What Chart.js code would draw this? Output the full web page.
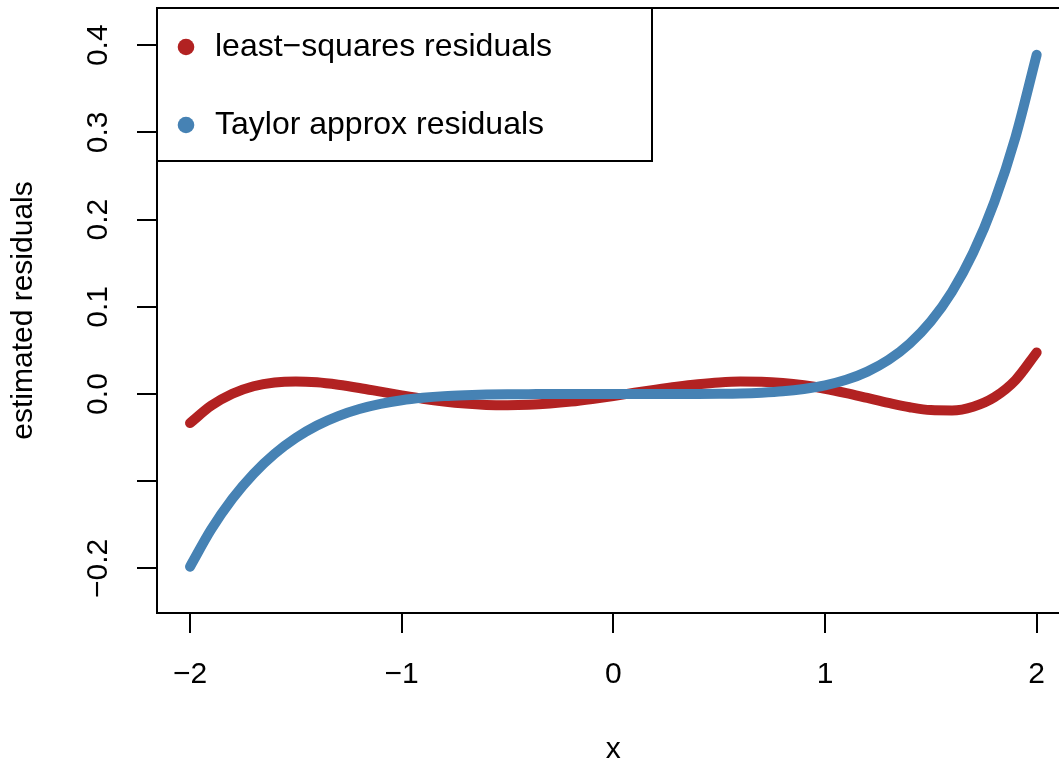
<!DOCTYPE html>
<html>
<head>
<meta charset="utf-8">
<script src="https://cdn.jsdelivr.net/npm/chart.js@4/dist/chart.umd.min.js"></script>
<style>
  html, body { margin: 0; padding: 0; background: #fff; overflow: hidden; width: 1059px; height: 763px; }
  #wrap { width: 1080px; height: 763px; }
  canvas { display: block; }
</style>
</head>
<body>
<div id="wrap"><canvas id="c" width="1080" height="763"></canvas></div>
<script>
// x grid on [-2, 2]
const xValues = [
  -2.0, -1.9, -1.8, -1.7, -1.6, -1.5, -1.4, -1.3, -1.2, -1.1,
  -1.0, -0.9, -0.8, -0.7, -0.6, -0.5, -0.4, -0.3, -0.2, -0.1,
   0.0,  0.1,  0.2,  0.3,  0.4,  0.5,  0.6,  0.7,  0.8,  0.9,
   1.0,  1.1,  1.2,  1.3,  1.4,  1.5,  1.6,  1.7,  1.8,  1.9,
   2.0
];

// residuals of the degree-4 least-squares fit
const lsResiduals = [
  -0.0333, -0.0134,  0.0003,  0.0089,  0.0133,  0.0145,  0.0134,  0.0106,  0.0069,  0.0027,
  -0.0015, -0.0054, -0.0086, -0.0110, -0.0125, -0.0129, -0.0124, -0.0109, -0.0086, -0.0056,
  -0.0022,  0.0015,  0.0051,  0.0084,  0.0112,  0.0133,  0.0143,  0.0141,  0.0127,  0.0100,
   0.0061,  0.0011, -0.0045, -0.0101, -0.0151, -0.0184, -0.0188, -0.0145, -0.0037,  0.0160,
   0.0477
];

// residuals of the degree-4 Taylor polynomial around 0
const taylorResiduals = [
  -0.1980, -0.1553, -0.1201, -0.0915, -0.0685, -0.0503, -0.0361, -0.0253, -0.0172, -0.0113,
  -0.0071, -0.0043, -0.0024, -0.0013, -0.0006, -0.0002, -0.0001,  0.0000,  0.0000,  0.0000,
   0.0000,  0.0000,  0.0000,  0.0000,  0.0001,  0.0003,  0.0007,  0.0016,  0.0031,  0.0058,
   0.0099,  0.0163,  0.0257,  0.0391,  0.0578,  0.0833,  0.1173,  0.1621,  0.2202,  0.2947,
   0.3891
];

const seriesNames  = ['least\u2212squares residuals', 'Taylor approx residuals'];
const seriesColors = ['#B22222', '#4682B4'];

const xTickValues = [-2, -1, 0, 1, 2];
const xTickLabels = ['\u22122', '\u22121', '0', '1', '2'];
const yTickValues = [-0.2, -0.1, 0.0, 0.1, 0.2, 0.3, 0.4];
const yTickLabels = ['\u22120.2', '', '0.0', '0.1', '0.2', '0.3', '0.4'];

const FONT = "'Liberation Sans', Arial, Helvetica, sans-serif";
Chart.defaults.font.family = FONT;
Chart.defaults.color = '#000';

// plot frame plus a boxed legend in the top-left corner
const framePlugin = {
  id: 'frame',
  afterDraw(chart, args, opts) {
    const { ctx, chartArea: a } = chart;
    ctx.save();
    ctx.strokeStyle = '#000';
    ctx.lineWidth = 2;
    ctx.strokeRect(a.left, a.top, a.right - a.left, a.bottom - a.top);

    const L = opts.legend;
    ctx.fillStyle = '#fff';
    ctx.fillRect(a.left, a.top, L.width, L.height);
    ctx.strokeRect(a.left, a.top, L.width, L.height);
    ctx.font = `${L.fontSize}px ${FONT}`;
    ctx.textBaseline = 'middle';
    ctx.textAlign = 'left';
    chart.data.datasets.forEach((ds, i) => {
      const y = a.top + L.firstRow + i * L.rowGap;
      ctx.beginPath();
      ctx.fillStyle = ds.borderColor;
      ctx.arc(a.left + L.dotX, y, L.dotR, 0, Math.PI * 2);
      ctx.fill();
      ctx.fillStyle = '#000';
      ctx.fillText(ds.label, a.left + L.textX, y);
    });
    ctx.restore();
  }
};

const axisGrid = { drawOnChartArea: false, drawTicks: true, tickLength: 20, color: '#000', lineWidth: 2 };
const axisBorder = { display: true, color: '#000', width: 2 };

function series(i, values, order) {
  return {
    label: seriesNames[i],
    data: xValues.map((x, k) => ({ x: x, y: values[k] })),
    borderColor: seriesColors[i],
    backgroundColor: seriesColors[i],
    borderWidth: 10,
    pointRadius: 0,
    pointHoverRadius: 0,
    cubicInterpolationMode: 'monotone',
    borderCapStyle: 'round',
    borderJoinStyle: 'round',
    fill: false,
    order: order
  };
}

new Chart(document.getElementById('c'), {
  type: 'line',
  data: {
    datasets: [
      series(0, lsResiduals, 2),
      series(1, taylorResiduals, 1)
    ]
  },
  options: {
    responsive: false,
    animation: false,
    events: [],
    layout: { padding: { top: 8, right: 10.3, left: 0, bottom: 0 } },
    plugins: {
      legend: { display: false },
      tooltip: { enabled: false },
      frame: {
        legend: { width: 495, height: 153, firstRow: 39, rowGap: 78, dotX: 29, dotR: 8.3, textX: 58, fontSize: 32 }
      }
    },
    scales: {
      x: {
        type: 'linear',
        min: -2.156,
        max: 2.156,
        afterBuildTicks: s => { s.ticks = xTickValues.map(v => ({ value: v })); },
        afterFit: s => { s.height = 150; s.paddingLeft = 0; s.paddingRight = 0; },
        grid: axisGrid,
        border: axisBorder,
        ticks: {
          padding: 24,
          autoSkip: false,
          maxRotation: 0,
          font: { size: 30 },
          color: '#000',
          callback: (v, i) => xTickLabels[i]
        },
        title: { display: true, text: 'x', color: '#000', font: { size: 30, lineHeight: 0.9 }, padding: 0 }
      },
      y: {
        type: 'linear',
        min: -0.2511,
        max: 0.4427,
        afterBuildTicks: s => { s.ticks = yTickValues.map(v => ({ value: v })); },
        afterFit: s => { s.width = 157; s.paddingTop = 0; s.paddingBottom = 0; },
        grid: axisGrid,
        border: axisBorder,
        ticks: {
          padding: 9,
          autoSkip: false,
          minRotation: 90,
          maxRotation: 90,
          crossAlign: 'center',
          font: { size: 30 },
          color: '#000',
          callback: (v, i) => yTickLabels[i]
        },
        title: { display: true, text: 'estimated residuals', color: '#000', font: { size: 30, lineHeight: 1.2 }, padding: { top: 6, bottom: 0 } }
      }
    }
  },
  plugins: [framePlugin]
});
</script>
</body>
</html>
